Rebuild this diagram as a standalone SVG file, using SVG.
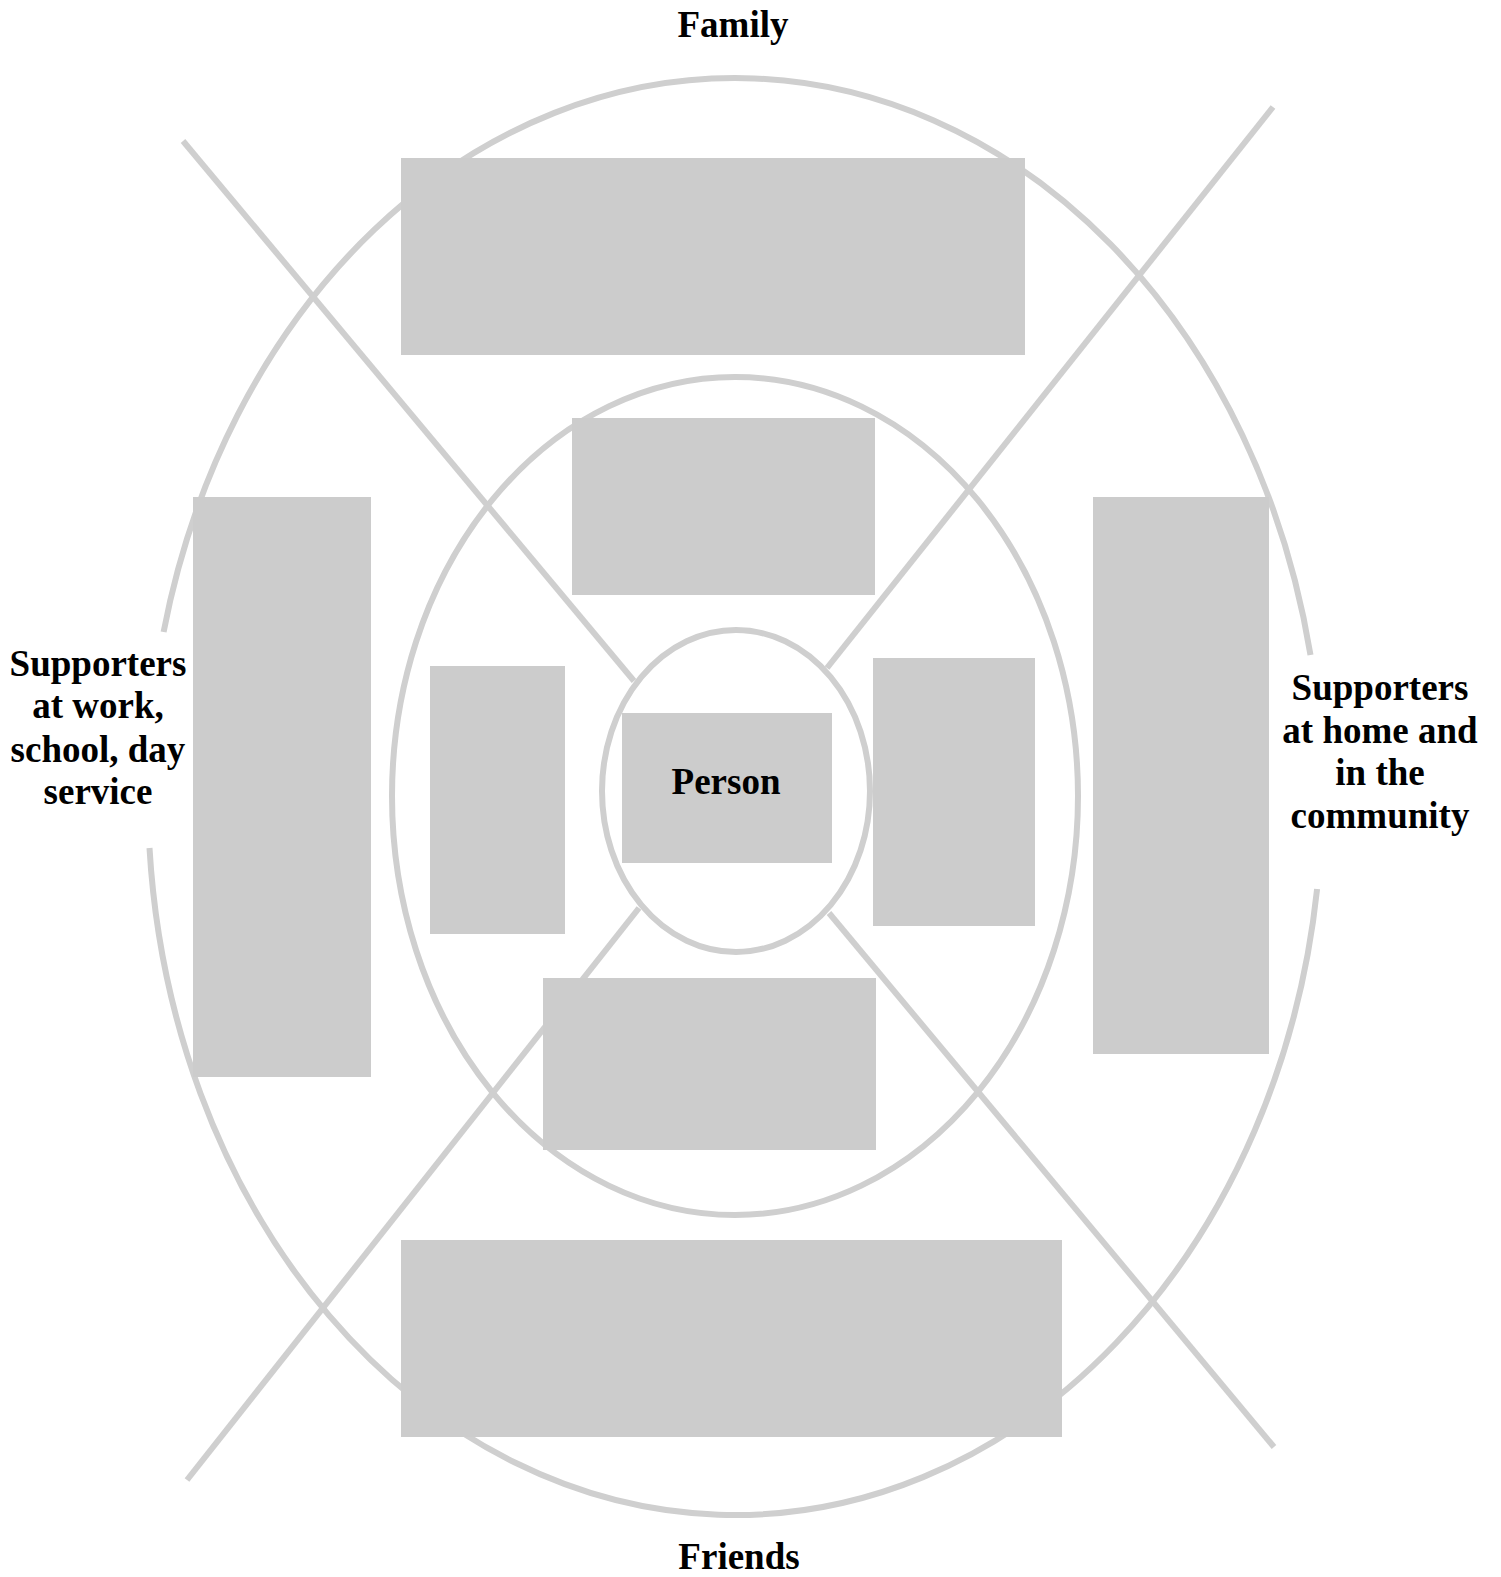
<svg xmlns="http://www.w3.org/2000/svg" width="1501" height="1577" viewBox="0 0 1501 1577">
<style>
.ring{fill:none;stroke:#cfcfcf;stroke-width:6}
.spoke{stroke:#cfcfcf;stroke-width:6;stroke-linecap:butt}
.box{fill:#cccccc}
.lbl{font-family:"Liberation Serif","Times New Roman",serif;font-weight:bold;font-size:37px;fill:#000;text-anchor:middle}
</style>
<rect x="0" y="0" width="1501" height="1577" fill="#ffffff"/>
<g id="rings">
<path class="ring" d="M163.6,632 A587,718.5 0 0 1 1310.5,655"/>
<path class="ring" d="M1317.1,889 A587,718.5 0 0 1 149.5,848"/>
<ellipse class="ring" cx="735" cy="796" rx="343" ry="419"/>
<ellipse class="ring" cx="736" cy="791" rx="134" ry="161"/>
</g>
<g id="connectors">
<line class="spoke" x1="183" y1="141" x2="634" y2="681"/>
<line class="spoke" x1="1273" y1="107" x2="827" y2="668"/>
<line class="spoke" x1="187" y1="1480" x2="639" y2="908"/>
<line class="spoke" x1="1274" y1="1447" x2="829" y2="913"/>
</g>
<g id="family-box"><rect class="box" x="401" y="158" width="624" height="197"/></g>
<g id="inner-top-box"><rect class="box" x="572" y="418" width="303" height="177"/></g>
<g id="inner-left-box"><rect class="box" x="430" y="666" width="135" height="268"/></g>
<g id="inner-right-box"><rect class="box" x="873" y="658" width="162" height="268"/></g>
<g id="inner-bottom-box"><rect class="box" x="543" y="978" width="333" height="172"/></g>
<g id="friends-box"><rect class="box" x="401" y="1240" width="661" height="197"/></g>
<g id="work-box"><rect class="box" x="193" y="497" width="178" height="580"/></g>
<g id="home-box"><rect class="box" x="1093" y="497" width="176" height="557"/></g>
<g id="person"><rect class="box" x="622" y="713" width="210" height="150"/>
<text class="lbl" x="726" y="794">Person</text></g>
<g id="labels">
<text class="lbl" x="733" y="37">Family</text>
<text class="lbl" x="739" y="1569">Friends</text>
<text class="lbl" x="98" y="676">Supporters</text>
<text class="lbl" x="98" y="718">at work,</text>
<text class="lbl" x="98" y="762">school, day</text>
<text class="lbl" x="98" y="804">service</text>
<text class="lbl" x="1380" y="700">Supporters</text>
<text class="lbl" x="1380" y="743">at home and</text>
<text class="lbl" x="1380" y="785">in the</text>
<text class="lbl" x="1380" y="828">community</text>
</g>
</svg>
